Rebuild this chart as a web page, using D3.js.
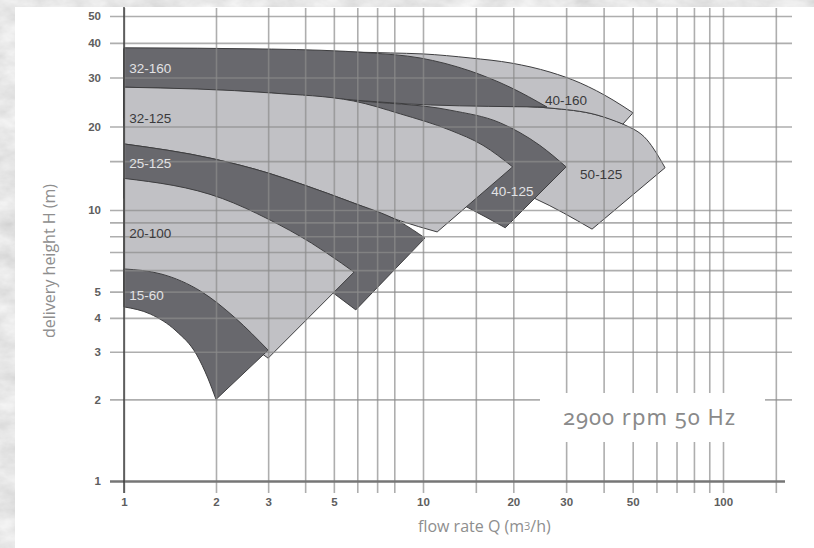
<!DOCTYPE html>
<html>
<head>
<meta charset="utf-8">
<script src="https://cdn.jsdelivr.net/npm/d3@7"></script>
<style>
  html, body { margin: 0; padding: 0; background: #fff; }
  svg { display: block; }
</style>
</head>
<body>
<svg id="chart" width="814" height="548"></svg>
<script>
// Selection chart for close-coupled centrifugal pumps at 2900 rpm / 50 Hz.
// Each field is bounded by the max. impeller curve (upper) and the min. impeller curve (lower).

const flowTicks = [1, 2, 3, 5, 10, 20, 30, 50, 100];
const flowGrid  = [1, 2, 3, 4, 5, 6, 7, 8, 10, 15, 20, 30, 40, 50, 60, 70, 80, 90, 100, 150];
const headTicks = [1, 2, 3, 4, 5, 10, 20, 30, 40, 50];
const headGrid  = [1, 2, 3, 4, 5, 6, 7, 8, 9, 10, 15, 20, 30, 40, 50];

// [Q (m³/h), H (m)]
const upper_50_125 = [[1, 25], [3.9, 24.8], [10.6, 24.3], [18.1, 23.8], [26.5, 23.3], [38, 22.0], [46.4, 20.4], [55.8, 17.9], [64.1, 14.2]];
const lower_50_125 = [[1, 20], [3.88, 18], [8.37, 15], [15.5, 13], [23.6, 11.0], [36.6, 8.5]];

const upper_40_160 = [[1, 38], [3.88, 37.4], [7.75, 36.8], [10, 36.5], [14.35, 35.3], [19.8, 33.8], [26.5, 31.4], [33.4, 28.7], [43, 24.9], [50.1, 22.4]];
const lower_40_160 = [[1, 25], [3.9, 24.8], [10.6, 24.3], [18.1, 23.8], [26.5, 23.3], [38, 22.0], [46.4, 20.4]];

const upper_40_125 = [[1, 29.4], [3.08, 27.5], [5.83, 24.9], [12.3, 22.9], [18.1, 20.6], [24.5, 17.1], [30, 14.3]];
const lower_40_125 = [[1, 21.4], [2.64, 18.6], [5.7, 15.1], [9.77, 12.3], [14.0, 10.25], [18.8, 8.6]];

const upper_32_160 = [[1, 38.4], [3.08, 38.0], [6.65, 36.8], [9.77, 35.3], [14.35, 31.7], [19.5, 27.7], [25.9, 23.5]];
const lower_32_160 = [[1, 27.7], [3.08, 26.4], [5.83, 24.9], [10.6, 23.9], [25.9, 23.5]];

const upper_32_125 = [[1, 27.7], [3.08, 26.4], [5.83, 24.7], [8.38, 22.2], [12.3, 19.4], [15.85, 17.1], [19.9, 14.3]];
const lower_32_125 = [[1, 17.3], [1.94, 15.33], [3.0, 13.59], [3.97, 12.3], [5.7, 10.69], [8.38, 9.12], [11.15, 8.3]];

const upper_25_125 = [[1, 17.3], [1.94, 15.33], [3.0, 13.59], [3.97, 12.3], [5.7, 10.69], [8.38, 9.03], [10.15, 7.88]];
const lower_25_125 = [[1, 11], [2, 8.5], [3, 7], [4.5, 5.35], [5.08, 4.86], [5.93, 4.28]];

const upper_20_100 = [[1, 13.0], [2.1, 11.0], [3.0, 9.26], [4.2, 7.55], [5.3, 6.37], [5.85, 5.9]];
const lower_20_100 = [[1, 5.0], [2, 3.8], [3.0, 2.84]];

const upper_15_60 = [[1, 6.06], [1.32, 5.81], [1.8, 4.98], [2.32, 4.0], [3.0, 3.04]];
const lower_15_60 = [[1, 4.39], [1.22, 4.13], [1.48, 3.58], [1.73, 2.92], [1.88, 2.40], [2.0, 2.0]];

// fields in painting order (back to front)
const pumpNames  = ["50-125", "40-160", "40-125", "32-160", "32-125", "25-125", "20-100", "15-60"];
const pumpUpper  = [upper_50_125, upper_40_160, upper_40_125, upper_32_160, upper_32_125, upper_25_125, upper_20_100, upper_15_60];
const pumpLower  = [lower_50_125, lower_40_160, lower_40_125, lower_32_160, lower_32_125, lower_25_125, lower_20_100, lower_15_60];
const pumpShade  = ["light", "light", "dark", "dark", "light", "dark", "light", "dark"];
const labelPoint = [[33.4, 12.9], [25.5, 23.9], [16.9, 11.2], [1.04, 31.2], [1.04, 20.6], [1.04, 14.2], [1.04, 7.88], [1.04, 4.65]];

const speedNote = "2900 rpm 50 Hz";

const pumps = pumpNames.map((name, i) => ({
  name, upper: pumpUpper[i], lower: pumpLower[i], shade: pumpShade[i], label: labelPoint[i]
}));

const svg = d3.select("#chart");
const W = 814, H = 548;

// ---- stone-textured backdrop with the white sheet on it
const defs = svg.append("defs");
const marble = defs.append("filter").attr("id", "marble")
  .attr("x", 0).attr("y", 0).attr("width", "100%").attr("height", "100%");
marble.append("feTurbulence").attr("type", "fractalNoise")
  .attr("baseFrequency", "0.035 0.06").attr("numOctaves", 4).attr("seed", 7);
marble.append("feColorMatrix").attr("type", "matrix")
  .attr("values", "0.35 0 0 0 0.62  0.35 0 0 0 0.62  0.35 0 0 0 0.62  0 0 0 0 1");
svg.append("rect").attr("width", W).attr("height", H).attr("filter", "url(#marble)");
svg.append("rect").attr("x", 15).attr("y", 7).attr("width", W - 15).attr("height", H - 7).attr("fill", "#fff");

// ---- scales (log-log, printed grid is slightly uneven per decade)
const x = d3.scaleLog().domain([1, 2, 10, 100]).range([124, 216, 423, 723]);
const y = d3.scaleLog().domain([1, 10, 50]).range([481, 210, 16]);

const curveGen = d3.line()
  .x(d => x(d[0])).y(d => y(d[1]))
  .curve(d3.curveMonotoneX);

function fieldPath(upper, lower) {
  const a = curveGen(upper);
  const b = curveGen(lower.slice().reverse());
  return a + "L" + b.slice(1) + "Z";
}

const fill = { dark: "#68686d", light: "#c1c1c5" };
const textFill = { dark: "#e2e2e4", light: "#3a3a3c" };

// ---- pump fields
svg.append("g").attr("class", "fields")
  .selectAll("path").data(pumps).join("path")
  .attr("d", d => fieldPath(d.upper, d.lower))
  .attr("fill", d => fill[d.shade])
  .attr("stroke", "#3e3e40")
  .attr("stroke-width", 1)
  .attr("stroke-linejoin", "miter");

// ---- grid drawn over the fields
const gridStroke = "#8c8c8c";

const xAxis = d3.axisBottom(x)
  .tickValues(flowGrid)
  .tickSizeInner(-(493 - 8))
  .tickSizeOuter(0)
  .tickPadding(5)
  .tickFormat(d => flowTicks.includes(d) ? d3.format("d")(d) : "");

const gx = svg.append("g").attr("transform", "translate(0,493)").call(xAxis);
gx.select(".domain").remove();
gx.selectAll(".tick line").attr("stroke", gridStroke).attr("stroke-opacity", 0.7).attr("stroke-width", 1.6);

const yAxis = d3.axisLeft(y)
  .tickValues(headGrid)
  .tickSizeInner(792 - 110)
  .tickSizeOuter(0)
  .tickPadding(9)
  .tickFormat(d => headTicks.includes(d) ? d3.format("d")(d) : "");

const gy = svg.append("g").attr("transform", "translate(792,0)").call(yAxis);
gy.select(".domain").remove();
gy.selectAll(".tick line").attr("stroke", gridStroke).attr("stroke-opacity", 0.7).attr("stroke-width", 1.6);
// base line at H = 1
gy.selectAll(".tick").filter(d => d === 1).select("line")
  .attr("x1", -7).attr("stroke", "#767676").attr("stroke-opacity", 1).attr("stroke-width", 2.4);

[gx, gy].forEach(g => g.selectAll(".tick text")
  .attr("fill", "#5e5e5e")
  .style("font-family", "'Liberation Sans', Arial, sans-serif")
  .style("font-size", "11.5px")
  .style("font-weight", "bold"));

// left axis line at Q = 1
svg.append("line")
  .attr("x1", x(1)).attr("x2", x(1)).attr("y1", 7).attr("y2", 493)
  .attr("stroke", "#333").attr("stroke-width", 1.3);

// ---- field labels
svg.append("g").selectAll("text").data(pumps).join("text")
  .attr("x", d => x(d.label[0]))
  .attr("y", d => y(d.label[1]))
  .attr("fill", d => textFill[d.shade])
  .style("font-family", "'Liberation Sans', Arial, sans-serif")
  .style("font-size", "13.5px")
  .text(d => d.name);

// ---- axis titles
svg.append("text")
  .attr("transform", "translate(55,261) rotate(-90)")
  .attr("text-anchor", "middle")
  .attr("fill", "#8e8e8e")
  .style("font-family", "'Open Sans', 'Noto Sans', sans-serif")
  .style("font-size", "16px")
  .text("delivery height H (m)");

const xt = svg.append("text")
  .attr("x", 418).attr("y", 532)
  .attr("fill", "#8e8e8e")
  .style("font-family", "'Open Sans', 'Noto Sans', sans-serif")
  .style("font-size", "16px");
xt.append("tspan").text("flow rate Q (m");
xt.append("tspan").attr("dy", -2).style("font-size", "11px").text("3");
xt.append("tspan").attr("dy", 2).text("/h)");

// ---- speed note
svg.append("rect").attr("x", 540).attr("y", 393).attr("width", 225).attr("height", 49).attr("fill", "#fff");
svg.append("text")
  .attr("x", 563).attr("y", 425)
  .attr("fill", "#8a8a8a")
  .style("font-family", "'Noto Sans', 'Open Sans', sans-serif")
  .style("font-size", "22px")
  .style("letter-spacing", "1px")
  .style("font-variant-numeric", "oldstyle-nums")
  .text(speedNote);
</script>
</body>
</html>
